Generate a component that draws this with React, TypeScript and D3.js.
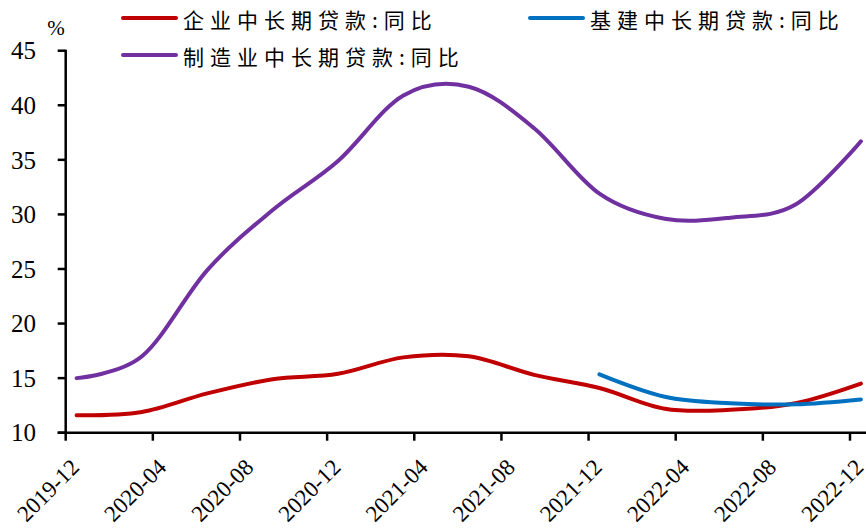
import React from 'react';
import * as d3 from 'd3';

// Quarter-end observations (year-on-year growth, %)
const quarters = [
  '2019-12', '2020-03', '2020-06', '2020-09', '2020-12', '2021-03', '2021-06',
  '2021-09', '2021-12', '2022-03', '2022-06', '2022-09', '2022-12',
];
const enterpriseLoans = [11.6, 11.9, 13.6, 14.9, 15.4, 16.9, 17.0, 15.3, 14.1, 12.2, 12.1, 12.7, 14.5];
const manufacturingLoans = [15.0, 17.0, 24.9, 30.4, 34.9, 40.9, 41.7, 37.9, 31.9, 29.6, 29.7, 30.9, 36.7];
const infrastructureLoans: (number | null)[] = [null, null, null, null, null, null, null, null, 15.35, 13.3, 12.7, 12.6, 13.05];

const tickLabels = [
  '2019-12', '2020-04', '2020-08', '2020-12', '2021-04', '2021-08',
  '2021-12', '2022-04', '2022-08', '2022-12',
];
const yTicks = [10, 15, 20, 25, 30, 35, 40, 45];

const series = [
  { name: '企业中长期贷款:同比', values: enterpriseLoans, color: '#C00000' },
  { name: '基建中长期贷款:同比', values: infrastructureLoans, color: '#0070C0' },
  { name: '制造业中长期贷款:同比', values: manufacturingLoans, color: '#7030A0' },
];

const W = 866;
const H = 529;
const left = 65.7;
const bandW = 21.786;
const top = 50.7;
const bottom = 432.7;

const fmt = d3.timeFormat('%Y-%m');
const months = d3.timeMonth.range(new Date(2019, 11, 1), new Date(2023, 0, 1)).map(fmt);

const x = d3.scaleBand<string>().domain(months).range([left, left + bandW * months.length]);
const y = d3.scaleLinear().domain([10, 45]).range([bottom, top]);
const cx = (m: string) => (x(m) as number) + x.bandwidth() / 2;

const line = d3
  .line<number | null>()
  .defined((v) => v != null)
  .x((_, i) => cx(quarters[i]))
  .y((v) => y(v as number))
  .curve(d3.curveCardinal.tension(0));

const cjk = '"Noto Sans CJK SC", sans-serif';
const serif = '"Liberation Serif", "Times New Roman", serif';

export default function App() {
  const legend = [
    { s: series[0], lx: 123, ly: 18 },
    { s: series[1], lx: 530, ly: 18 },
    { s: series[2], lx: 123, ly: 55 },
  ];
  return (
    <svg width={W} height={H} style={{ position: 'absolute', left: 0, top: 0, background: '#fff' }}>
      {/* data lines */}
      {series.map((s) => (
        <path key={s.name} d={line(s.values) || ''} fill="none" stroke={s.color} strokeWidth={4} strokeLinecap="round" />
      ))}

      {/* y axis */}
      <line x1={left} x2={left} y1={top - 1} y2={bottom} stroke="#000" strokeWidth={2.5} />
      {yTicks.map((t) => (
        <g key={t}>
          <line x1={left - 8} x2={left} y1={y(t)} y2={y(t)} stroke="#000" strokeWidth={2.5} />
          <text x={36} y={y(t)} dy="0.35em" textAnchor="end" fontFamily={serif} fontSize={25} fill="#000">
            {t}
          </text>
        </g>
      ))}
      <text x={56} y={35} textAnchor="middle" fontFamily={serif} fontSize={21} fill="#000">%</text>

      {/* x axis */}
      <line x1={left - 8} x2={W} y1={bottom} y2={bottom} stroke="#000" strokeWidth={2.5} />
      {tickLabels.map((m) => (
        <g key={m}>
          <line x1={x(m) as number} x2={x(m) as number} y1={bottom} y2={bottom + 8} stroke="#000" strokeWidth={2.5} />
          <text
            transform={`translate(${cx(m) + 4},${bottom + 36}) rotate(-45)`}
            textAnchor="end"
            fontFamily={serif}
            fontSize={23}
            fill="#000"
          >
            {m}
          </text>
        </g>
      ))}

      {/* legend */}
      {legend.map(({ s, lx, ly }) => (
        <g key={s.name}>
          <line x1={lx} x2={lx + 53} y1={ly} y2={ly} stroke={s.color} strokeWidth={4} strokeLinecap="round" />
          <text
            x={lx + 60}
            y={ly + 1}
            fontFamily={cjk}
            fontSize={21}
            fill="#000"
            dominantBaseline="central"
            letterSpacing={6}
          >
            {s.name}
          </text>
        </g>
      ))}
    </svg>
  );
}
